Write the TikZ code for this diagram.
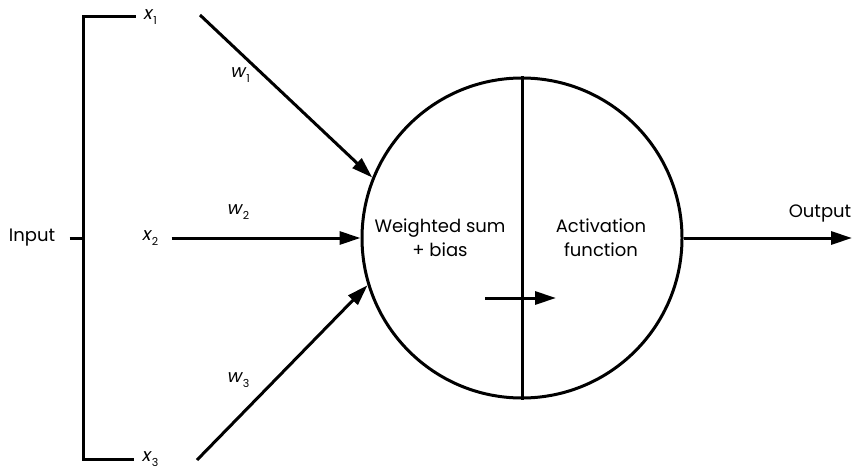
\documentclass[tikz,border=0pt]{standalone}
\usepackage{fontspec}
\setmainfont{Poppins}[ItalicFont=Poppins, ItalicFeatures={FakeSlant=0.2}]
\usetikzlibrary{arrows.meta}
\tikzset{
	arr/.style={-{Triangle[length=21pt,width=13pt]}},
	lbl/.style={font=\fontsize{18}{24}\selectfont, inner sep=0pt},
}
\newcommand{\varsub}[2]{{\itshape #1}\kern1.5pt\raisebox{-5pt}{\fontsize{11}{11}\selectfont #2}}
\begin{document}
\begin{tikzpicture}[x=1pt,y=-1pt, line width=3pt, every node/.style={lbl}]
	\useasboundingbox (0,0) rectangle (858,468);
	%draw neuron
	\node[circle, draw, minimum size=320pt] (neuron) at (522,238) {};
	\draw (neuron.north) -- (neuron.south);
	\node[align=center] (sum) at (440,238) {Weighted sum\\+ bias};
	\node[align=center] (act) at (601,238) {Activation\\function};
	\coordinate (pa) at (485,298);
	\coordinate (pb) at (556,298);
	\draw[arr] (pa) -- (pb);
	%draw inputs
	\node (input) at (32,238) {Input};
	\node (x1) at (150,17) {\varsub{x}{1}};
	\node (x2) at (150,238) {\varsub{x}{2}};
	\node (x3) at (150,459) {\varsub{x}{3}};
	\coordinate (brk) at (83,238);
	\draw ([xshift=-6pt]x1.west) -| (brk) |- ([xshift=-6pt]x3.west);
	\draw ([xshift=13pt]input.east) -- (brk);
	%draw weights
	\coordinate (s1) at (200,15);
	\coordinate (s3) at (197,460);
	\draw[arr] (s1) -- (neuron.158);
	\draw[arr] ([xshift=12pt]x2.east) -- (neuron.west);
	\draw[arr] (s3) -- (neuron.197);
	\node (w1) at (240,75) {\varsub{w}{1}};
	\node (w2) at (238,212) {\varsub{w}{2}};
	\node (w3) at (238,380) {\varsub{w}{3}};
	%draw output
	\coordinate (out) at (852,238);
	\draw[arr] (neuron.east) -- (out);
	\node (output) at (820,213) {Output};
\end{tikzpicture}
\end{document}
